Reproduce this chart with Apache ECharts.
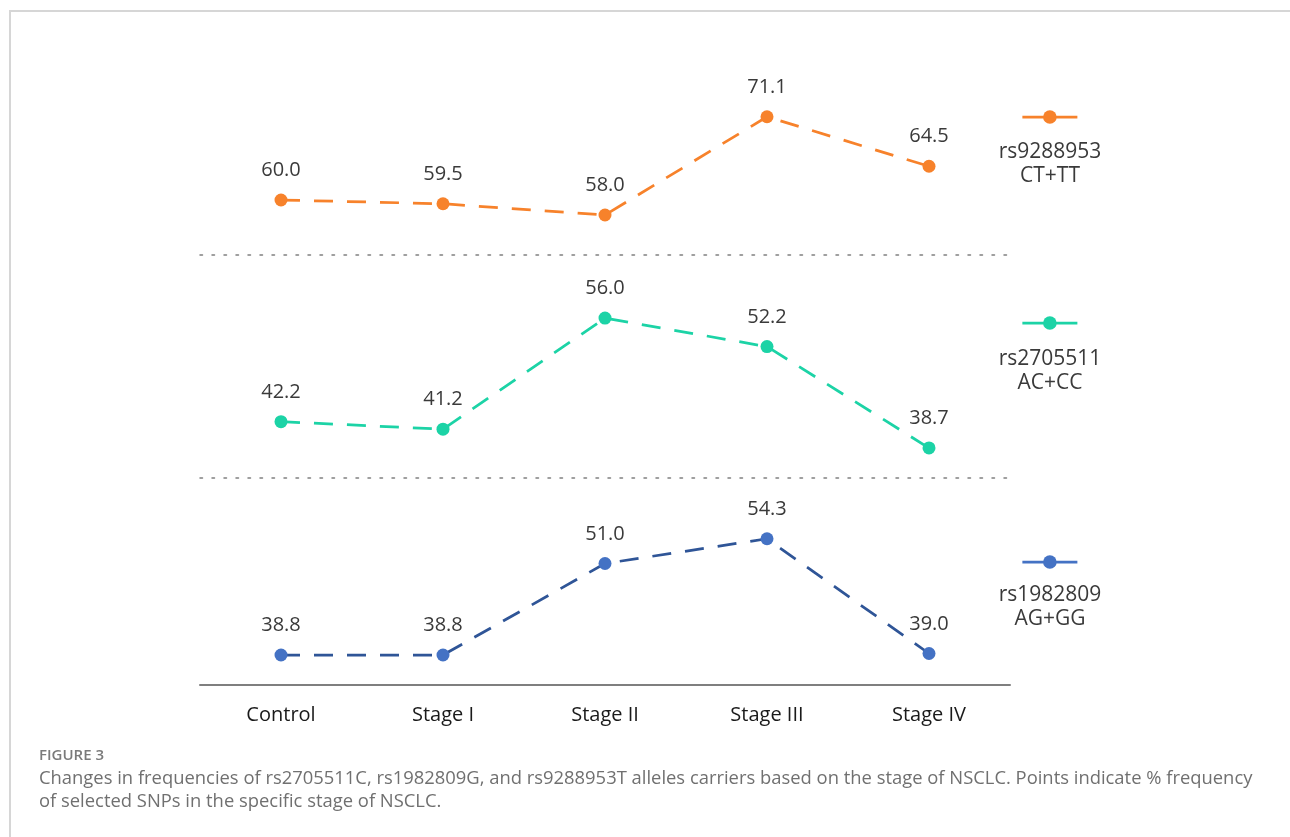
<!DOCTYPE html>
<html>
<head>
<meta charset="utf-8">
<script src="https://cdn.jsdelivr.net/npm/echarts@6/dist/echarts.min.js"></script>
<style>
  html, body { margin: 0; padding: 0; background: #ffffff; }
  #chart { width: 1290px; height: 837px; }
  #frame { position: absolute; left: 9px; top: 10px; width: 1281px; height: 827px;
           border-top: 2px solid #d6d6d6; border-left: 2px solid #d6d6d6; pointer-events: none; box-sizing: border-box; }
</style>
</head>
<body>
<div id="chart"></div>
<div id="frame"></div>
<script>
// ---- data ----
const categories = ['Control', 'Stage I', 'Stage II', 'Stage III', 'Stage IV'];
const rs9288953 = [60.0, 59.5, 58.0, 71.1, 64.5];
const rs2705511 = [42.2, 41.2, 56.0, 52.2, 38.7];
const rs1982809 = [38.8, 38.8, 51.0, 54.3, 39.0];
const seriesNames = ['rs9288953\nCT+TT', 'rs2705511\nAC+CC', 'rs1982809\nAG+GG'];
const captionLabel = 'FIGURE 3';
const captionText = 'Changes in frequencies of rs2705511C, rs1982809G, and rs9288953T alleles carriers based on the stage of NSCLC. Points indicate % frequency\nof selected SNPs in the specific stage of NSCLC.';

// ---- styling / layout ----
const FONT = '"Open Sans", "Noto Sans", sans-serif';
const seriesData = [rs9288953, rs2705511, rs1982809];
const dotColors = ['#F7822B', '#1CD3A6', '#4472C4'];
const lineColors = ['#F7822B', '#1CD3A6', '#2F5597'];
const gridTops = [20, 255, 478];
const gridHeights = [235, 223, 207];
const yRanges = [[52.67, 84], [34.7, 64.4], [34.8, 62.4]];
const legendTops = [108.5, 314.5, 553.5];
const labelTops = [140, 347, 583];

const grids = [], xAxes = [], yAxes = [], series = [], legends = [], titles = [];
for (let i = 0; i < 3; i++) {
  grids.push({ left: 200, right: 280, top: gridTops[i], height: gridHeights[i] });
  const last = i === 2;
  xAxes.push({
    type: 'category', gridIndex: i, data: categories, boundaryGap: true,
    axisTick: { show: false },
    axisLine: { show: true, lineStyle: last ? { color: '#7f7f7f', width: 2 } : { color: '#808080', width: 1.5, type: [2.5, 9.5] } },
    axisLabel: { show: last, margin: 20, fontSize: 20, color: '#1a1a1a', fontFamily: FONT },
    splitLine: { show: false }
  });
  yAxes.push({ type: 'value', gridIndex: i, min: yRanges[i][0], max: yRanges[i][1], show: false, splitLine: { show: false } });
  series.push({
    name: seriesNames[i], type: 'line', xAxisIndex: i, yAxisIndex: i, data: seriesData[i],
    symbol: 'circle', symbolSize: 13,
    itemStyle: { color: dotColors[i] },
    lineStyle: { color: lineColors[i], width: 2.75, type: [19, 14] },
    label: { show: true, position: 'top', distance: 13, fontSize: 20, color: '#3a3a3a', fontFamily: FONT,
             formatter: p => p.value.toFixed(1) },
    animation: false
  });
  legends.push({
    data: [seriesNames[i]], left: 1021, top: legendTops[i], padding: 0,
    itemWidth: 55, itemHeight: 17, formatter: () => '',
    lineStyle: { type: 'solid', width: 2.75, color: dotColors[i] },
    selectedMode: false
  });
  titles.push({
    text: seriesNames[i], left: 1050, top: labelTops[i], textAlign: 'center', padding: 0,
    textStyle: { fontSize: 21, fontWeight: 'normal', color: '#3a3a3a', fontFamily: FONT, lineHeight: 24 }
  });
}
titles.push({ text: captionLabel, left: 39, top: 748, padding: 0,
  textStyle: { fontSize: 15, fontWeight: 600, color: '#7a7a7a', fontFamily: FONT } });
titles.push({ text: captionText, left: 39, top: 767, padding: 0,
  textStyle: { fontSize: 18.4, fontWeight: 'normal', color: '#707070', fontFamily: FONT, lineHeight: 23 } });

const chart = echarts.init(document.getElementById('chart'), null, { renderer: 'canvas' });
chart.setOption({
  backgroundColor: '#ffffff',
  animation: false,
  title: titles,
  legend: legends,
  grid: grids,
  xAxis: xAxes,
  yAxis: yAxes,
  series: series
});
</script>
</body>
</html>
